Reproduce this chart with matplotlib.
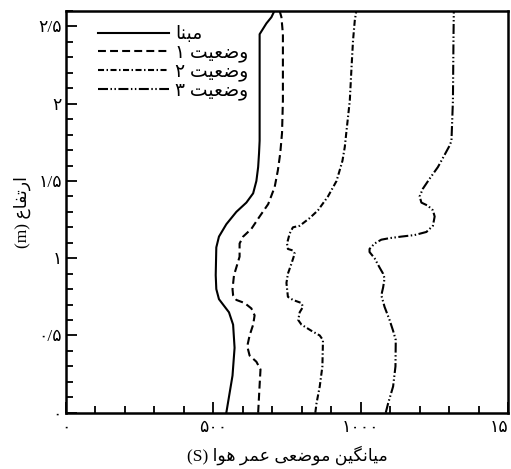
import matplotlib
matplotlib.use('Agg')
import matplotlib.pyplot as plt
from matplotlib.ticker import MultipleLocator, FixedLocator

plt.rcParams['font.family'] = ['Liberation Serif', 'DejaVu Sans']

# presentation forms: isolated, final, initial, medial
FORMS = {
    'ا': ('\ufe8d', '\ufe8e'),
    'ب': ('\ufe8f', '\ufe90', '\ufe91', '\ufe92'),
    'ت': ('\ufe95', '\ufe96', '\ufe97', '\ufe98'),
    'ر': ('\ufead', '\ufeae'),
    'ض': ('\ufebd', '\ufebe', '\ufebf', '\ufec0'),
    'ع': ('\ufec9', '\ufeca', '\ufecb', '\ufecc'),
    'ف': ('\ufed1', '\ufed2', '\ufed3', '\ufed4'),
    'م': ('\ufee1', '\ufee2', '\ufee3', '\ufee4'),
    'ن': ('\ufee5', '\ufee6', '\ufee7', '\ufee8'),
    'ه': ('\ufee9', '\ufeea', '\ufeeb', '\ufeec'),
    'و': ('\ufeed', '\ufeee'),
    'ی': ('\ufbfc', '\ufbfd', '\ufbfe', '\ufbff'),
    'گ': ('\ufb92', '\ufb93', '\ufb94', '\ufb95'),
}


def rtl(text):
    '''join letters and put them in visual (left to right) order'''
    out = []
    for i, ch in enumerate(text):
        f = FORMS.get(ch)
        if f is None:
            out.append(ch)
            continue
        prev = FORMS.get(text[i - 1]) if i > 0 else None
        nxt = FORMS.get(text[i + 1]) if i + 1 < len(text) else None
        join_prev = prev is not None and len(prev) == 4
        join_next = nxt is not None and len(f) == 4
        if join_prev and join_next:
            out.append(f[3])
        elif join_prev:
            out.append(f[1])
        elif join_next:
            out.append(f[2])
        else:
            out.append(f[0])
    return ''.join(reversed(out))


# مبنا
base_h = [0, 0.24, 0.42, 0.57, 0.65, 0.70, 0.735, 0.80, 0.89, 1.07, 1.14, 1.22, 1.30, 1.36, 1.42,
          1.50, 1.59, 1.68, 1.76, 2.02, 2.24, 2.45, 2.52, 2.56, 2.6]
base_t = [544, 565, 572, 567, 553, 533, 519, 510, 508, 510, 519, 544, 578, 612, 635,
          646, 652, 655, 657, 657, 657, 657, 680, 697, 707]

# وضعیت ۱
case1_h = [0, 0.18, 0.28, 0.33, 0.37, 0.43, 0.50, 0.57, 0.63, 0.675, 0.71, 0.73, 0.76, 0.80, 0.89,
           1.01, 1.095, 1.14, 1.19, 1.27, 1.35, 1.46, 1.57, 1.68, 1.81, 2.02, 2.45, 2.56, 2.6]
case1_t = [652, 657, 660, 646, 623, 615, 623, 635, 640, 629, 606, 578, 567, 565, 570,
           589, 589, 601, 629, 657, 686, 708, 719, 727, 733, 736, 736, 731, 725]

# وضعیت ۲
case2_h = [0, 0.06, 0.17, 0.30, 0.47, 0.50, 0.53, 0.57, 0.60, 0.65, 0.685, 0.71, 0.73, 0.75, 0.84,
           0.90, 0.965, 1.03, 1.05, 1.06, 1.095, 1.16, 1.20, 1.21, 1.26, 1.31, 1.40, 1.50, 1.63,
           1.72, 1.81, 2.02, 2.24, 2.41, 2.54, 2.6]
case2_t = [846, 850, 861, 870, 872, 861, 833, 799, 788, 793, 804, 799, 770, 753, 748,
           753, 765, 776, 770, 753, 750, 759, 770, 793, 827, 855, 889, 918, 938,
           946, 951, 963, 969, 974, 980, 985]

# وضعیت ۳
case3_h = [0, 0.06, 0.17, 0.30, 0.47, 0.53, 0.60, 0.685, 0.76, 0.81, 0.87, 0.90, 0.94, 1.00, 1.04,
           1.06, 1.095, 1.12, 1.13, 1.14, 1.15, 1.17, 1.21, 1.27, 1.31, 1.34, 1.36, 1.40, 1.45,
           1.515, 1.59, 1.67, 1.73, 1.76, 2.02, 2.45, 2.6]
case3_t = [1085, 1093, 1110, 1118, 1119, 1110, 1098, 1081, 1070, 1076, 1081, 1076, 1064, 1047, 1030,
           1030, 1047, 1070, 1098, 1138, 1183, 1223, 1245, 1251, 1245, 1228, 1206, 1200, 1211,
           1234, 1262, 1285, 1302, 1308, 1313, 1315, 1316]

labels = [rtl('مبنا'), '۱ ' + rtl('وضعیت'), '۲ ' + rtl('وضعیت'), '۳ ' + rtl('وضعیت')]
x_ticks = [0, 500, 1000, 1500]
x_ticklabels = ['۰', '۵۰۰', '۱۰۰۰', '۱۵۰۰']
y_ticks = [0, 0.5, 1, 1.5, 2, 2.5]
y_ticklabels = ['۰', '۰/۵', '۱', '۱/۵', '۲', '۲/۵']

fig = plt.figure(figsize=(5.11, 4.69), dpi=100)
ax = fig.add_axes([0.1292, 0.120, 0.865, 0.8565])

lw = 1.5
ax.plot(base_t, base_h, color='black', lw=lw, ls='-', label=labels[0])
ax.plot(case1_t, case1_h, color='black', lw=lw, ls=(0, (3.8, 2.0)), label=labels[1])
ax.plot(case2_t, case2_h, color='black', lw=lw, ls=(0, (2.9, 1.2, 0.7, 1.2)), label=labels[2])
ax.plot(case3_t, case3_h, color='black', lw=lw, ls=(0, (4.8, 1.2, 0.7, 1.2, 0.7, 1.2)), label=labels[3])

ax.set_xlim(0, 1500)
ax.set_ylim(0, 2.6)
ax.xaxis.set_major_locator(FixedLocator(x_ticks))
ax.xaxis.set_minor_locator(MultipleLocator(100))
ax.yaxis.set_major_locator(FixedLocator(y_ticks))
ax.yaxis.set_minor_locator(MultipleLocator(0.1))
ax.set_xticklabels(x_ticklabels, fontsize=12.5)
ax.set_yticklabels(y_ticklabels, fontsize=12.5)

ax.tick_params(which='both', direction='in', width=1.3, color='black')
ax.tick_params(which='major', length=8)
ax.tick_params(which='minor', length=5)
ax.tick_params(axis='x', pad=5)
ax.tick_params(axis='y', pad=3)
for s in ax.spines.values():
    s.set_linewidth(1.8)

ax.set_xlabel('(S) ' + rtl('میانگین موضعی عمر هوا'), fontsize=12.5, labelpad=7)
ax.set_ylabel('(m) ' + rtl('ارتفاع'), fontsize=12.5, labelpad=5)

ax.legend(loc='upper left', bbox_to_anchor=(0.072, 0.962), frameon=False, fontsize=13.5,
          handlelength=3.8, handletextpad=0.33, labelspacing=0.06, borderpad=0, borderaxespad=0)

fig.savefig('out.png', dpi=100)
